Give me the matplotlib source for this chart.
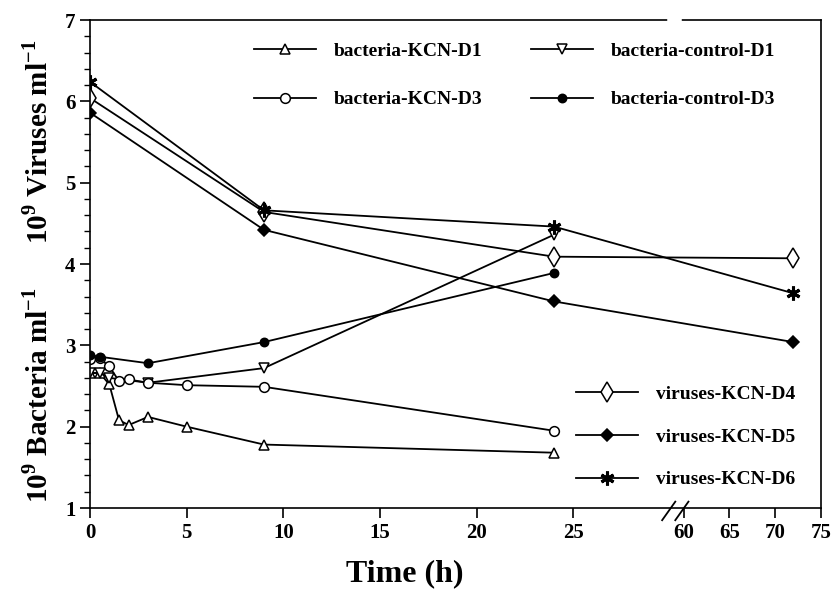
import numpy as np
import matplotlib
matplotlib.use('Agg')
import matplotlib.pyplot as plt
from matplotlib.ticker import AutoMinorLocator

plt.rcParams['font.family'] = 'Liberation Serif'
plt.rcParams['font.weight'] = 'bold'
plt.rcParams['mathtext.fontset'] = 'custom'
plt.rcParams['mathtext.rm'] = 'Liberation Serif:bold'
plt.rcParams['mathtext.bf'] = 'Liberation Serif:bold'

# bacteria (10^9 / ml)
t_kcn_d1 = [0, 0.5, 1, 1.5, 2, 3, 5, 9, 24]
bact_kcn_d1 = [2.66, 2.66, 2.52, 2.08, 2.02, 2.12, 2.0, 1.78, 1.68]
t_kcn_d3 = [0, 0.5, 1, 1.5, 2, 3, 5, 9, 24]
bact_kcn_d3 = [2.83, 2.84, 2.74, 2.56, 2.58, 2.54, 2.51, 2.49, 1.95]
t_ctrl_d1 = [0, 0.5, 1, 3, 9, 24]
bact_ctrl_d1 = [2.66, 2.66, 2.6, 2.54, 2.72, 4.36]
t_ctrl_d3 = [0, 0.5, 3, 9, 24]
bact_ctrl_d3 = [2.88, 2.86, 2.78, 3.04, 3.89]

# viruses (10^9 / ml)
t_vir = [0, 9, 24, 72]
vir_d4 = [6.04, 4.64, 4.09, 4.07]
vir_d5 = [5.86, 4.42, 3.54, 3.04]
vir_d6 = [6.24, 4.66, 4.46, 3.64]

xticks = [0, 5, 10, 15, 20, 25, 60, 65, 70, 75]


# broken time axis: 0-30 normal, 30-60 squeezed, 60-75 compressed
def fwd(x):
    x = np.asarray(x, float)
    return np.where(x <= 30, x,
                    np.where(x < 60, 30 + (x - 30) * 0.71 / 30,
                             30.71 + (x - 60) * 0.4723))


def inv(u):
    u = np.asarray(u, float)
    return np.where(u <= 30, u,
                    np.where(u < 30.71, 30 + (u - 30) * 30 / 0.71,
                             60 + (u - 30.71) / 0.4723))


fig = plt.figure(figsize=(8.33, 5.9), dpi=100)
ax = fig.add_axes([90 / 833, 1 - 508 / 590, 730.7 / 833, 488 / 590])
ax.set_xscale('function', functions=(fwd, inv))

lw = 1.3
kw = dict(color='black', lw=lw, markeredgewidth=1.1)
l1, = ax.plot(t_kcn_d1, bact_kcn_d1, marker='^', ms=7, mfc='white', **kw)
l2, = ax.plot(t_ctrl_d1, bact_ctrl_d1, marker='v', ms=7, mfc='white', **kw)
l3, = ax.plot(t_kcn_d3, bact_kcn_d3, marker='o', ms=7, mfc='white', **kw)
l4, = ax.plot(t_ctrl_d3, bact_ctrl_d3, marker='o', ms=6, mfc='black', **kw)
l5, = ax.plot(t_vir, vir_d4, marker='d', ms=10, mfc='white', **kw)
l6, = ax.plot(t_vir, vir_d5, marker='D', ms=6, mfc='black', **kw)
l7, = ax.plot(t_vir, vir_d6, marker=(6, 2, 0), ms=10, color='black', lw=lw,
              markeredgewidth=2.2)

ax.set_xlim(0, 75)
ax.set_ylim(1, 7)
ax.set_xticks(xticks)
ax.set_xticklabels([str(v) for v in xticks])
ax.set_yticks([1, 2, 3, 4, 5, 6, 7])
ax.yaxis.set_minor_locator(AutoMinorLocator(5))
ax.xaxis.set_minor_locator(plt.NullLocator())
ax.tick_params(axis='both', which='major', labelsize=15, length=7, width=1.2, direction='out')
ax.tick_params(axis='y', which='minor', length=4, width=1.0, direction='out')
ax.tick_params(top=False, right=False)
for s in ax.spines.values():
    s.set_linewidth(1.2)

# gap in top frame and break marks on the time axis
ax.plot([31, 50], [7, 7], color='white', lw=4, clip_on=False, zorder=6)
for x0 in (0.783, 0.801):
    ax.plot([x0, x0 + 0.018], [-0.025, 0.013], color='black', lw=1.3,
            transform=ax.transAxes, clip_on=False, zorder=7)

ax.set_xlabel('Time (h)', fontsize=23, fontweight='bold', labelpad=12)
ax.xaxis.label.set_x((405 - 90) / 730.7)
fig.text(0.046, 1 - 395 / 590, r'$10^9$ Bacteria ml$^{-1}$',
         rotation=90, fontsize=21, fontweight='bold', ha='center', va='center')
fig.text(0.046, 1 - 142 / 590, r'$10^9$ Viruses ml$^{-1}$',
         rotation=90, fontsize=21, fontweight='bold', ha='center', va='center')

leg1 = ax.legend([l1, l3, l2, l4],
                 ['bacteria-KCN-D1', 'bacteria-KCN-D3',
                  'bacteria-control-D1', 'bacteria-control-D3'],
                 ncol=2, frameon=False, loc='upper left',
                 bbox_to_anchor=(254 / 833, 1 - 42 / 590),
                 bbox_transform=fig.transFigure, borderpad=0, borderaxespad=0,
                 handlelength=3.2, handletextpad=0.9, columnspacing=2.5,
                 labelspacing=1.6, prop=dict(size=14, weight='bold'))
ax.add_artist(leg1)
ax.legend([l5, l6, l7], ['viruses-KCN-D4', 'viruses-KCN-D5', 'viruses-KCN-D6'],
          frameon=False, loc='upper left',
          bbox_to_anchor=(576 / 833, 1 - 385 / 590),
          bbox_transform=fig.transFigure, borderpad=0, borderaxespad=0,
          handlelength=3.2, handletextpad=0.9, labelspacing=1.3,
          prop=dict(size=14, weight='bold'))

fig.savefig('out.png', dpi=100)
